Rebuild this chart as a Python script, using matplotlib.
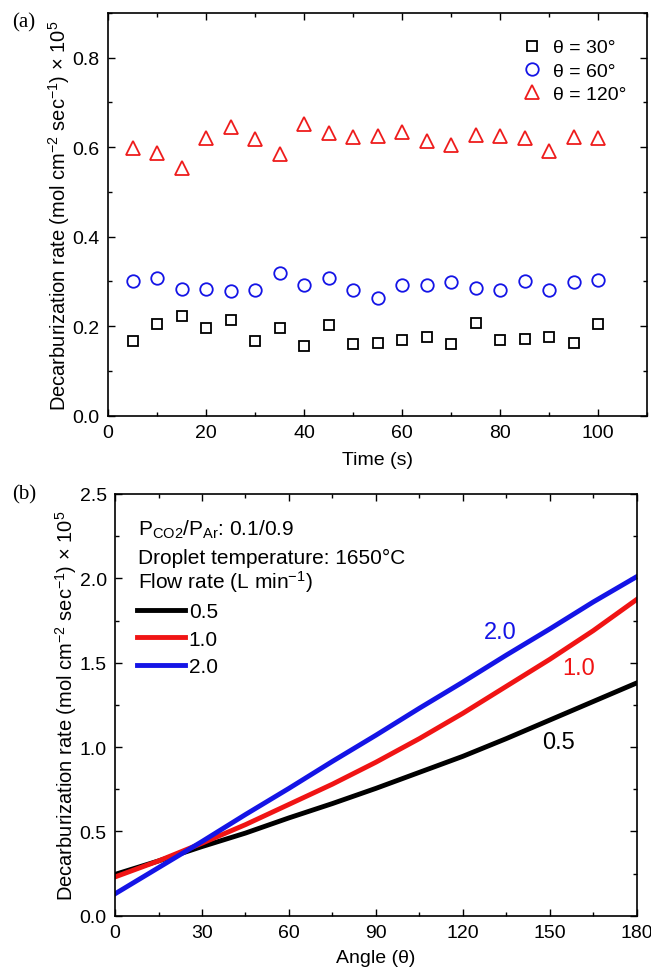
import matplotlib
matplotlib.use('Agg')
import matplotlib.pyplot as plt
from matplotlib.lines import Line2D
from matplotlib.ticker import MultipleLocator

plt.rcParams['font.family'] = ['Liberation Sans', 'DejaVu Sans']
plt.rcParams['mathtext.fontset'] = 'custom'
plt.rcParams['mathtext.rm'] = 'Liberation Sans'
plt.rcParams['mathtext.it'] = 'Liberation Sans'

# (a) decarburization rate vs time
time_s = [5, 10, 15, 20, 25, 30, 35, 40, 45, 50, 55, 60, 65, 70, 75, 80, 85, 90, 95, 100]
rate_30 = [0.167, 0.204, 0.222, 0.195, 0.214, 0.166, 0.197, 0.155, 0.203, 0.161,
           0.163, 0.169, 0.175, 0.160, 0.207, 0.169, 0.172, 0.176, 0.163, 0.204]
rate_60 = [0.301, 0.307, 0.283, 0.283, 0.279, 0.282, 0.319, 0.291, 0.307, 0.280,
           0.262, 0.291, 0.291, 0.299, 0.285, 0.281, 0.300, 0.280, 0.299, 0.303]
rate_120 = [0.598, 0.586, 0.553, 0.621, 0.645, 0.619, 0.584, 0.651, 0.632, 0.622,
            0.626, 0.635, 0.614, 0.606, 0.627, 0.626, 0.620, 0.591, 0.623, 0.620]

# (b) decarburization rate vs angle
angle = [0, 15, 30, 45, 60, 75, 90, 105, 120, 135, 150, 165, 180]
flow_05 = [0.245, 0.325, 0.41, 0.49, 0.58, 0.665, 0.755, 0.85, 0.945, 1.05, 1.16, 1.27, 1.38]
flow_10 = [0.23, 0.325, 0.43, 0.54, 0.66, 0.78, 0.91, 1.05, 1.20, 1.36, 1.52, 1.69, 1.875]
flow_20 = [0.13, 0.285, 0.44, 0.60, 0.755, 0.915, 1.07, 1.23, 1.385, 1.545, 1.70, 1.86, 2.01]

ylab = 'Decarburization rate (mol cm$^{-2}$ sec$^{-1}$) × 10$^{5}$'
fs = 14

fig = plt.figure(figsize=(6.51, 9.70), dpi=100)
ax1 = fig.add_axes([0.1659, 0.5704, 0.828, 0.4152])
ax2 = fig.add_axes([0.1767, 0.0549, 0.8014, 0.4348])


def style(ax):
    for s in ax.spines.values():
        s.set_linewidth(1.2)
    ax.tick_params(which='both', direction='in', top=True, right=True,
                   labelsize=fs, width=1.0, pad=6)
    ax.tick_params(which='major', length=5)
    ax.tick_params(which='minor', length=3)


ax1.plot(time_s, rate_30, 's', ms=7, mfc='none', mec='black', mew=1.3, ls='none', label='θ = 30°')
ax1.plot(time_s, rate_60, 'o', ms=9, mfc='none', mec='#1414e6', mew=1.3, ls='none', label='θ = 60°')
ax1.plot(time_s, rate_120, '^', ms=10, mfc='none', mec='#ee1c1c', mew=1.3, ls='none', label='θ = 120°')
ax1.set_xlim(0, 110)
ax1.set_ylim(0, 0.9)
ax1.xaxis.set_major_locator(MultipleLocator(20))
ax1.xaxis.set_minor_locator(MultipleLocator(10))
ax1.yaxis.set_major_locator(MultipleLocator(0.2))
ax1.yaxis.set_minor_locator(MultipleLocator(0.1))
style(ax1)
ax1.set_xlabel('Time (s)', fontsize=fs, labelpad=7)
ax1.set_ylabel(ylab, fontsize=14.5, labelpad=0.5)
ax1.legend(loc='upper right', bbox_to_anchor=(0.984, 0.965), frameon=False, fontsize=fs,
           handlelength=1.4, handletextpad=0.4, labelspacing=0.3, borderaxespad=0.2)
fig.text(0.018, 0.976, '(a)', fontsize=15, family='Liberation Serif', va='center')

ax2.plot(angle, flow_05, color='black', lw=3.5)
ax2.plot(angle, flow_10, color='#f01414', lw=3.5)
ax2.plot(angle, flow_20, color='#1414e6', lw=3.5)
ax2.set_xlim(0, 180)
ax2.set_ylim(0, 2.5)
ax2.xaxis.set_major_locator(MultipleLocator(30))
ax2.xaxis.set_minor_locator(MultipleLocator(15))
ax2.yaxis.set_major_locator(MultipleLocator(0.5))
ax2.yaxis.set_minor_locator(MultipleLocator(0.25))
style(ax2)
ax2.set_xlabel('Angle (θ)', fontsize=fs, labelpad=6)
ax2.set_ylabel(ylab, fontsize=14.5, labelpad=0.5)
fig.text(0.018, 0.49, '(b)', fontsize=15, family='Liberation Serif', va='center')

fs2 = 15
ax2.text(0.044, 0.917, 'P$_{\\mathregular{CO2}}$/P$_{\\mathregular{Ar}}$: 0.1/0.9',
         transform=ax2.transAxes, fontsize=fs2, va='center')
ax2.text(0.044, 0.85, 'Droplet temperature: 1650°C', transform=ax2.transAxes, fontsize=fs2, va='center')
ax2.text(0.044, 0.794, 'Flow rate (L min$^{-1}$)', transform=ax2.transAxes, fontsize=fs2, va='center')
handles = [Line2D([], [], color='black', lw=3.5),
           Line2D([], [], color='#f01414', lw=3.5),
           Line2D([], [], color='#1414e6', lw=3.5)]
ax2.legend(handles, ['0.5', '1.0', '2.0'], loc='center left', bbox_to_anchor=(0.027, 0.656),
           frameon=False, fontsize=fs2, handlelength=2.26, handletextpad=0.2,
           labelspacing=0.4, borderaxespad=0)

ax2.text(133, 1.68, '2.0', color='#1414e6', fontsize=17, ha='center', va='center')
ax2.text(160, 1.47, '1.0', color='#f01414', fontsize=17, ha='center', va='center')
ax2.text(153, 1.03, '0.5', color='black', fontsize=17, ha='center', va='center')

fig.savefig('out.png', dpi=100)
